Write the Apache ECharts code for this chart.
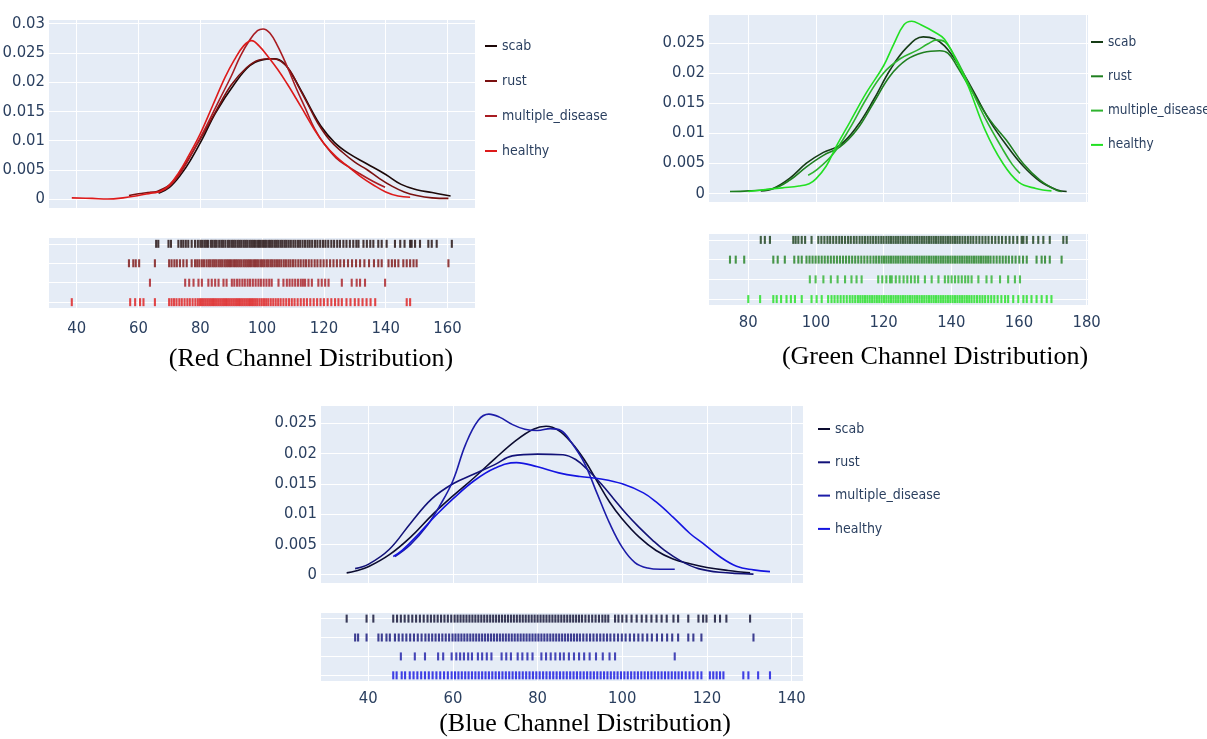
<!DOCTYPE html>
<html><head><meta charset="utf-8">
<script src="https://cdn.jsdelivr.net/npm/echarts@6/dist/echarts.min.js"></script>
<style>html,body{margin:0;padding:0;background:#fff}#c{width:1207px;height:739px}</style>
</head><body><div id="c"></div><script>
const groups = ['scab','rust','multiple_disease','healthy'];
const panelTitles = ['(Red Channel Distribution)','(Green Channel Distribution)','(Blue Channel Distribution)'];

// ---- KDE curves [value, density] ----
const redScab = [[66.5,0.0010],[70,0.0020],[74,0.0044],[77,0.0068],[80.5,0.0101],[85,0.0148],[91.2,0.0198],[96,0.0228],[100,0.0238],[104,0.0240],[107,0.0233],[110,0.0210],[113,0.0182],[116,0.0152],[119,0.0125],[123.4,0.0097],[128,0.0078],[134,0.0060],[140,0.0042],[145,0.0025],[150,0.0016],[155,0.0011],[161,0.0005]];
const redRust = [[56.9,0.0006],[60,0.0009],[63,0.0011],[66,0.0013],[70,0.0024],[74,0.0050],[78,0.0085],[81,0.0112],[85,0.0150],[90,0.0195],[95,0.0225],[99,0.0238],[103,0.0240],[106,0.0236],[109,0.0220],[112,0.0190],[115,0.0160],[118,0.0130],[122,0.0100],[126,0.0080],[130,0.0063],[134,0.0050],[138,0.0035],[142,0.0022],[146,0.0012],[150,0.0006],[155,0.0002],[160.3,0.0001]];
const redMultiple = [[63.7,0.0011],[67,0.0013],[70,0.0022],[74,0.0048],[78,0.0085],[82,0.0125],[86,0.0168],[90,0.0210],[93,0.0245],[96,0.0272],[98.5,0.0288],[100.3,0.0291],[102.5,0.0284],[105,0.0262],[108,0.0228],[111,0.0190],[114,0.0155],[117,0.0120],[120,0.0095],[124,0.0070],[128,0.0055],[132,0.0042],[136,0.0030],[139.8,0.0020]];
const redHealthy = [[38.4,0.0002],[45,0.0001],[50,0.0000],[55,0.0002],[60,0.0006],[64,0.0010],[67,0.0013],[70,0.0024],[73,0.0045],[76,0.0072],[80,0.0112],[84,0.0160],[88,0.0208],[91,0.0238],[94,0.0262],[96.6,0.0271],[99,0.0262],[102,0.0243],[105,0.0222],[108,0.0198],[111,0.0172],[114,0.0145],[117,0.0118],[120,0.0095],[124,0.0072],[128,0.0055],[132,0.0038],[136,0.0024],[140,0.0012],[144,0.0005],[147.9,0.0003]];

const greenScab = [[83.7,0.0004],[87.4,0.0008],[92.3,0.0025],[97.2,0.0050],[102.2,0.0068],[107.1,0.0080],[112,0.0110],[117,0.0155],[121.9,0.0205],[126.8,0.0242],[131.7,0.0260],[135,0.0257],[138,0.0245],[141.6,0.0218],[146.5,0.0170],[151.4,0.0120],[156.3,0.0080],[161.3,0.0045],[166.2,0.0020],[171.1,0.0006],[174.1,0.0003]];
const greenRust = [[74.6,0.0003],[80,0.0004],[87.4,0.0008],[92.3,0.0022],[97.2,0.0044],[102.2,0.0063],[107.1,0.0077],[112,0.0105],[117,0.0150],[121.9,0.0195],[126.8,0.0222],[131.7,0.0234],[136.6,0.0237],[139,0.0233],[141.6,0.0212],[146.5,0.0166],[151.4,0.0122],[156.3,0.0088],[161.3,0.0049],[166.2,0.0022],[171.1,0.0005],[172.6,0.0003]];
const greenMultiple = [[97.7,0.0030],[100,0.0038],[105,0.0065],[110,0.0108],[115,0.0158],[120,0.0200],[125,0.0224],[130,0.0238],[133,0.0248],[135.7,0.0255],[138,0.0252],[141,0.0228],[145,0.0183],[150,0.0125],[155,0.0075],[158,0.0048],[160.3,0.0033]];
const greenHealthy = [[80,0.0003],[85,0.0006],[90,0.0009],[95,0.0012],[98,0.0016],[100,0.0024],[103,0.0045],[106,0.0078],[110,0.0118],[115,0.0168],[120,0.0212],[123,0.0248],[126,0.0280],[128.3,0.0286],[131,0.0280],[135,0.0268],[138,0.0256],[141,0.0226],[145,0.0178],[150,0.0105],[155,0.0052],[160,0.0018],[165,0.0008],[169.6,0.0004]];

const blueScab = [[34.9,0.0003],[37,0.0006],[40,0.0013],[45,0.0033],[50,0.0062],[55,0.0098],[60,0.0130],[65,0.0160],[70,0.0192],[75,0.0222],[79,0.0240],[82,0.0245],[85,0.0238],[88,0.0218],[91,0.0190],[94,0.0155],[97,0.0120],[100,0.0092],[104,0.0062],[108,0.0040],[112,0.0026],[116,0.0018],[120,0.0012],[125,0.0007],[130.2,0.0003]];
const blueRust = [[36.9,0.0010],[40,0.0017],[45,0.0042],[50,0.0085],[55,0.0125],[60,0.0150],[65,0.0166],[70,0.0182],[74,0.0196],[80,0.0199],[86,0.0198],[89,0.0190],[92,0.0172],[95,0.0150],[98,0.0125],[101,0.0100],[104,0.0078],[107,0.0058],[110,0.0040],[114,0.0022],[118,0.0010],[123,0.0004],[131,0.0001]];
const blueMultiple = [[46.3,0.0030],[50,0.0050],[54,0.0082],[57,0.0115],[60,0.0155],[63,0.0215],[66,0.0255],[68.5,0.0265],[71,0.0260],[74,0.0248],[77,0.0240],[80,0.0238],[83,0.0241],[85.5,0.0238],[88,0.0218],[91,0.0185],[94,0.0135],[97,0.0085],[100,0.0045],[103,0.0020],[106,0.0011],[109,0.0009],[112.4,0.0009]];
const blueHealthy = [[45.9,0.0030],[48,0.0040],[52,0.0068],[56,0.0098],[60,0.0125],[65,0.0155],[70,0.0176],[75,0.0185],[80,0.0178],[85,0.0168],[90,0.0162],[95,0.0158],[100,0.0150],[105,0.0135],[108,0.0120],[112,0.0095],[116,0.0068],[119,0.0052],[123,0.0030],[127,0.0014],[131,0.0008],[134.9,0.0005]];

// ---- rug values ----
const redScabRug = [65.7,66.4,69.7,70.5,72.9,73.8,74.5,75.3,76.1,77.2,78.3,79.2,80.0,80.6,81.3,81.9,82.5,83.4,84.0,84.7,85.3,86.1,86.8,87.4,88.1,88.9,89.5,90.2,90.8,91.4,92.1,92.7,93.3,94.0,94.6,95.2,95.9,96.5,97.1,97.7,98.4,99.0,99.6,100.3,100.9,101.5,102.2,102.8,103.4,104.1,104.7,105.3,106.0,106.6,107.3,107.9,108.6,109.3,110.1,110.8,111.6,112.3,113.1,113.9,114.7,115.4,116.2,117.1,117.9,118.8,119.7,120.5,121.4,122.4,123.3,124.3,125.2,126.3,127.3,128.4,129.5,130.5,131.2,132.8,133.9,135,136,137.6,138.7,140.3,143,144.7,146.1,147.9,148.4,149.5,151.1,153.8,154.9,156.5,161.4];
const redRustRug = [56.9,58.3,59.1,60.2,65.3,69.9,70.7,71.6,72.4,73.4,74.5,75.6,77.2,78.3,79.0,79.7,80.5,81.2,82.0,82.7,83.3,84.0,84.6,85.2,85.9,86.5,87.1,87.8,88.4,89.0,89.6,90.2,90.9,91.5,92.1,92.7,93.3,94.0,94.6,95.2,95.8,96.4,97.1,97.7,98.3,98.9,99.6,100.2,100.8,101.5,102.1,102.8,103.4,104.1,104.8,105.5,106.2,107.0,107.7,108.5,109.2,110.0,110.8,111.7,112.5,113.4,114.2,115.1,116.0,117.0,117.9,118.9,119.9,120.9,122.0,123.1,124.2,125.3,126.5,127.8,129.1,130.4,131.7,133.1,134.6,136.2,137.6,138.7,140.9,142,143,144.1,145.7,146.8,147.9,149,150,160.3];
const redMultipleRug = [63.7,75.1,76.4,77.8,79.4,80.5,82.6,83.7,84.8,85.9,87.5,88.5,90.2,91.0,91.9,92.7,93.6,94.4,95.3,96.1,97.0,97.9,98.8,99.6,100.5,101.4,102.3,103.1,105.3,106.9,108.0,108.9,109.8,110.7,111.6,112.5,113.2,113.9,115,116.1,118.2,119.3,120.4,121.5,125.8,129,130.6,131.7,133.3,139.8];
const redHealthyRug = [38.4,57.3,58.9,60.5,61.6,65.3,69.9,70.7,71.5,72.3,73.2,74.0,74.9,75.8,76.6,77.5,78.4,79.2,79.9,80.5,81.1,81.7,82.3,82.9,83.5,84.1,84.7,85.3,85.9,86.5,87.1,87.7,88.3,88.9,89.5,90.1,90.7,91.3,91.9,92.5,93.1,93.7,94.3,94.9,95.5,96.1,96.7,97.3,97.9,98.5,99.2,99.9,100.6,101.3,102.0,102.8,103.6,104.4,105.2,106.0,106.9,107.8,108.7,109.6,110.5,111.5,112.5,113.5,114.5,115.6,116.7,117.8,118.9,120.0,121.2,122.4,123.6,124.7,125.8,127.3,128.6,130.0,131.2,132.5,133.8,135.1,136.6,146.8,147.9];

const greenScabRug = [83.7,84.9,86.4,93.3,94,94.8,95.8,96.8,98.7,100.7,101.6,102.5,103.4,104.2,105.1,106.0,106.9,107.7,108.6,109.5,110.3,111.2,112.0,112.9,113.7,114.5,115.3,116.1,116.9,117.7,118.5,119.3,120.0,120.8,121.5,122.2,122.9,123.6,124.3,125.0,125.7,126.4,127.1,127.8,128.5,129.2,129.9,130.6,131.3,132.0,132.7,133.4,134.1,134.8,135.5,136.2,136.9,137.6,138.3,139.0,139.7,140.4,141.1,141.8,142.5,143.3,144.1,144.9,145.7,146.5,147.4,148.3,149.2,150.1,151.0,152.0,153.0,154.0,155.0,156.1,157.2,158.3,159.5,160.8,161.3,162.3,164.2,165.7,167.2,169.1,173.1,174.1];
const greenRustRug = [74.6,76.3,78.8,87.4,88.7,90.8,93.6,94.8,95.8,97.2,98.1,99.0,99.9,100.8,101.7,102.6,103.5,104.4,105.3,106.2,107.1,108.0,108.9,109.8,110.7,111.6,112.5,113.4,114.3,115.2,116.1,117.0,117.8,118.6,119.4,120.1,120.8,121.5,122.2,122.9,123.6,124.3,125.0,125.7,126.4,127.1,127.8,128.5,129.2,129.9,130.6,131.3,132.0,132.7,133.4,134.1,134.8,135.5,136.2,136.9,137.6,138.3,139.0,139.7,140.4,141.1,141.8,142.5,143.2,143.9,144.6,145.3,146.0,146.7,147.4,148.1,148.8,149.5,150.2,150.9,151.6,152.5,153.4,154.3,155.2,156.1,157.0,158.0,159.0,160.1,161.2,162.3,165.2,166.7,167.7,169.1,172.6];
const greenMultipleRug = [98.2,99.9,102.2,104.4,106.4,108.6,110.5,112,113.5,118.4,119.6,120.8,121.9,122.4,123.6,124.7,125.9,127.0,128.1,129.2,130.2,132.2,134.2,136.2,138.1,139.1,140.1,141.1,142.1,143.1,144.1,145.0,146,148,150.4,151.9,154.4,156.8,158.8,160.3];
const greenHealthyRug = [80,83.5,87.4,88.4,89.7,91.3,92.6,93.8,95.8,98.7,100.2,101.7,103.6,104.6,105.5,106.4,107.3,108.2,109.1,110.0,110.8,111.6,112.4,113.1,113.8,114.5,115.2,115.9,116.6,117.3,118.0,118.7,119.4,120.1,120.8,121.5,122.2,122.9,123.6,124.3,125.0,125.7,126.4,127.1,127.8,128.5,129.2,129.9,130.6,131.3,132.0,132.7,133.4,134.1,134.8,135.5,136.2,136.9,137.6,138.3,139.0,139.7,140.4,141.1,141.8,142.5,143.2,143.9,144.6,145.3,146.0,146.8,147.6,148.4,149.2,150.0,150.9,151.8,152.7,153.7,154.8,155.9,156.8,158.3,159.8,161.3,162.3,163.7,165.2,166.7,168.2,169.6];

const blueScabRug = [34.9,39.6,41.2,45.9,46.8,47.7,48.6,49.5,50.4,51.3,52.2,53.1,54.0,54.8,55.6,56.4,57.2,58.0,58.8,59.6,60.4,61.1,61.8,62.5,63.2,63.9,64.6,65.3,66.0,66.7,67.4,68.1,68.8,69.5,70.2,70.9,71.6,72.3,73.0,73.7,74.4,75.1,75.8,76.5,77.2,77.9,78.6,79.3,80.0,80.7,81.4,82.1,82.8,83.5,84.2,84.9,85.6,86.3,87.0,87.7,88.4,89.1,89.8,90.5,91.3,92.1,92.9,93.7,94.5,95.3,96.0,96.7,98.3,99.1,100.0,101.0,102.2,103.4,104.6,105.7,106.9,108.1,109.3,110.5,112.1,113.2,115.6,118,119.1,119.9,121.9,123.1,124.6,130.2];
const blueRustRug = [36.9,37.6,39.6,42.4,43.2,44.3,45.1,46.3,47.2,48.1,49.0,49.9,50.8,51.7,52.6,53.5,54.3,55.1,55.9,56.7,57.5,58.3,59.1,59.9,60.6,61.3,62.0,62.7,63.4,64.1,64.8,65.5,66.2,66.9,67.6,68.3,69.0,69.7,70.4,71.1,71.8,72.5,73.2,73.9,74.6,75.3,76.0,76.7,77.4,78.1,78.8,79.5,80.2,80.9,81.6,82.3,83.0,83.7,84.4,85.1,85.8,86.5,87.2,87.9,88.6,89.3,90.0,90.8,91.6,92.4,93.2,94.0,94.8,95.6,96.4,97.2,98.1,99.0,99.9,100.8,101.8,102.8,103.8,104.8,105.9,107.0,108.2,109.4,110.6,111.8,113.2,115.6,116.8,118.7,131];
const blueMultipleRug = [47.7,51,53.4,56.5,57.7,59.7,60.8,61.7,62.6,63.6,64.5,65.9,66.9,68.0,69.1,71.5,72.6,73.7,75.3,76.4,77.6,78.8,80.9,82.0,83.1,84.2,85.3,86.2,87.4,88.6,89.8,91.0,92.3,93.8,95.4,97.0,98.3,112.4];
const blueHealthyRug = [45.9,46.7,47.9,48.7,49.8,50.7,51.6,52.5,53.4,54.3,55.2,56.1,57.0,57.9,58.8,59.7,60.5,61.3,62.1,62.9,63.7,64.5,65.3,66.1,66.9,67.7,68.5,69.3,70.1,70.9,71.7,72.5,73.3,74.1,74.9,75.7,76.5,77.3,78.1,78.9,79.7,80.5,81.3,82.1,82.9,83.7,84.5,85.3,86.1,86.9,87.7,88.5,89.3,90.1,90.9,91.7,92.5,93.3,94.1,94.9,95.7,96.5,97.3,98.1,98.9,99.7,100.5,101.3,102.1,102.9,103.7,104.5,105.3,106.1,106.9,107.7,108.5,109.3,110.1,110.9,111.7,112.5,113.3,114.1,115.0,115.9,116.8,117.8,118.7,120.7,121.5,122.3,123.1,123.9,128.6,129.8,132.1,134.9];

// ---- styling ----
const panels = [
  {key:'r', kde:[redScab,redRust,redMultiple,redHealthy], rug:[redScabRug,redRustRug,redMultipleRug,redHealthyRug],
   colors:['#1c0808','#7a1010','#a81c22','#dd1a1a'],
   xr:[30.7,168.9], yr:[-0.00154,0.0308], xMargin:12,
   kdeGrid:{left:48,top:19,width:427,height:189}, rugGrid:{left:48,top:237,width:427,height:71},
   legend:{left:480,top:31,itemGap:15,fontSize:14}, title:{x:311,y:359}},
  {key:'g', kde:[greenScab,greenRust,greenMultiple,greenHealthy], rug:[greenScabRug,greenRustRug,greenMultipleRug,greenHealthyRug],
   colors:['#163c16','#1f7f1f','#2fb32f','#22e022'],
   xr:[68.1,180.4], yr:[-0.00145,0.0298], xMargin:9,
   kdeGrid:{left:708,top:14,width:380,height:188}, rugGrid:{left:708,top:233,width:380,height:72},
   legend:{left:1086,top:27,itemGap:14.3,fontSize:13.5}, title:{x:935,y:357}},
  {key:'b', kde:[blueScab,blueRust,blueMultiple,blueHealthy], rug:[blueScabRug,blueRustRug,blueMultipleRug,blueHealthyRug],
   colors:['#0c0c30','#121278','#1c1ca8','#1414e0'],
   xr:[28.6,142.7], yr:[-0.00137,0.0280], xMargin:9,
   kdeGrid:{left:320,top:405,width:483,height:178}, rugGrid:{left:320,top:612,width:483,height:69},
   legend:{left:813,top:414,itemGap:13.3,fontSize:14}, title:{x:585,y:724}}
];
const BG = '#e5ecf6';
const TXT = '#2a3f5f';
const FONT = "'DejaVu Sans Condensed','DejaVu Sans',sans-serif";

const grid=[], xAxis=[], yAxis=[], series=[], legend=[], graphic=[];
panels.forEach((p, pi) => {
  const gk = grid.length;
  const gbase = {show:true, backgroundColor:BG, borderWidth:0, containLabel:false, outerBoundsMode:'none'};
  grid.push(Object.assign({}, gbase, p.kdeGrid));
  grid.push(Object.assign({}, gbase, p.rugGrid));
  const splitW = {show:true, lineStyle:{color:'#ffffff', width:1}};
  xAxis.push({type:'value', gridIndex:gk, min:p.xr[0], max:p.xr[1], minInterval:20, maxInterval:20,
    axisLine:{show:false}, axisTick:{show:false}, axisLabel:{show:false}, splitLine:splitW});
  xAxis.push({type:'value', gridIndex:gk+1, min:p.xr[0], max:p.xr[1], minInterval:20, maxInterval:20,
    axisLine:{show:false}, axisTick:{show:false}, splitLine:splitW,
    axisLabel:{show:true, showMinLabel:false, showMaxLabel:false, color:TXT, fontFamily:FONT, fontSize:16.5, margin:p.xMargin}});
  yAxis.push({type:'value', gridIndex:gk, min:p.yr[0], max:p.yr[1], minInterval:0.005, maxInterval:0.005,
    axisLine:{show:false}, axisTick:{show:false}, splitLine:{show:true, lineStyle:{color:'#ffffff', width:1}},
    axisLabel:{show:true, showMinLabel:false, showMaxLabel:false, color:TXT, fontFamily:FONT, fontSize:16.5, margin:3}});
  yAxis.push({type:'value', gridIndex:gk+1, min:-0.3, max:3.35, minInterval:1, maxInterval:1,
    axisLine:{show:false}, axisTick:{show:false}, axisLabel:{show:false}, splitLine:splitW});
  const names = groups.map(g => p.key + '|' + g);
  groups.forEach((g, i) => {
    series.push({type:'line', name:names[i], xAxisIndex:gk, yAxisIndex:gk, data:p.kde[i],
      smooth:0.4, symbol:'none', lineStyle:{width:1.6, color:p.colors[i]}, itemStyle:{color:p.colors[i]}, silent:true});
  });
  groups.forEach((g, i) => {
    const row = 3 - i;
    series.push({type:'scatter', name:names[i], xAxisIndex:gk+1, yAxisIndex:gk+1,
      data:p.rug[i].map(v => [v, row]), symbol:'rect', symbolSize:[2.1, 8],
      itemStyle:{color:p.colors[i], opacity:0.8}, silent:true});
  });
  legend.push({orient:'vertical', left:p.legend.left, top:p.legend.top, itemGap:p.legend.itemGap,
    data:names, icon:'rect', itemWidth:12, itemHeight:2, selectedMode:false,
    formatter: n => n.split('|')[1],
    textStyle:{color:TXT, fontFamily:FONT, fontSize:p.legend.fontSize, lineHeight:20}});
  graphic.push({type:'text', x:p.title.x, y:p.title.y,
    style:{text:panelTitles[pi], fill:'#000', font:"26px 'Liberation Serif','Times New Roman',serif", textAlign:'center', textVerticalAlign:'middle'}});
});

const chart = echarts.init(document.getElementById('c'), null, {renderer:'canvas'});
chart.setOption({animation:false, backgroundColor:'#ffffff', grid, xAxis, yAxis, series, legend, graphic});
</script></body></html>
